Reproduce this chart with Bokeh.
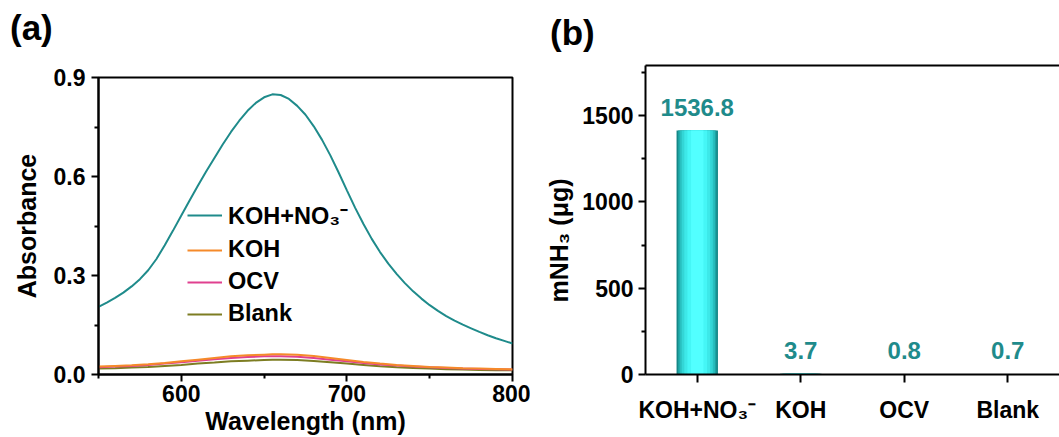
from bokeh.plotting import figure
from bokeh.models import (FixedTicker, PrintfTickFormatter, Legend, LegendItem,
                          Title, Div, LinearAxis, FactorRange, Range1d)
from bokeh.layouts import row, column
from bokeh.embed import file_html
from bokeh.resources import INLINE
from bokeh.core.properties import value

# ---------------- data: panel (a) ----------------
wavelength = [550, 555, 560, 565, 570, 575, 580, 585, 590, 595, 600, 605, 610, 615,
              620, 625, 630, 635, 640, 645, 650, 655, 660, 665, 670, 675, 680, 685,
              690, 695, 700, 705, 710, 715, 720, 725, 730, 735, 740, 745, 750, 755,
              760, 765, 770, 775, 780, 785, 790, 795, 800]
abs_koh_no3 = [0.205, 0.218, 0.232, 0.248, 0.267, 0.289, 0.316, 0.350, 0.392, 0.436,
               0.482, 0.527, 0.572, 0.615, 0.656, 0.697, 0.735, 0.769, 0.799, 0.823,
               0.840, 0.849, 0.847, 0.835, 0.814, 0.787, 0.752, 0.711, 0.664, 0.612,
               0.558, 0.505, 0.456, 0.411, 0.371, 0.336, 0.305, 0.277, 0.252, 0.230,
               0.210, 0.193, 0.177, 0.163, 0.151, 0.140, 0.129, 0.119, 0.110, 0.102,
               0.094]
wavelength_low = [550, 560, 570, 580, 590, 600, 610, 620, 630, 640, 650, 655, 660, 670,
                  680, 690, 700, 710, 720, 730, 740, 750, 760, 770, 780, 790, 800]
abs_koh = [0.024, 0.026, 0.028, 0.031, 0.035, 0.040, 0.045, 0.050, 0.055, 0.058,
           0.060, 0.061, 0.061, 0.060, 0.056, 0.050, 0.044, 0.038, 0.033, 0.029,
           0.026, 0.023, 0.021, 0.019, 0.018, 0.017, 0.016]
abs_ocv = [0.022, 0.024, 0.026, 0.029, 0.033, 0.037, 0.042, 0.046, 0.050, 0.053,
           0.055, 0.055, 0.055, 0.054, 0.050, 0.045, 0.040, 0.035, 0.030, 0.027,
           0.024, 0.022, 0.020, 0.018, 0.017, 0.016, 0.015]
abs_blank = [0.018, 0.019, 0.021, 0.023, 0.026, 0.029, 0.033, 0.036, 0.040, 0.042,
             0.044, 0.045, 0.045, 0.044, 0.041, 0.037, 0.033, 0.029, 0.025, 0.022,
             0.020, 0.018, 0.016, 0.015, 0.014, 0.013, 0.013]
series_names = ["KOH+NO\u2083\u207b", "KOH", "OCV", "Blank"]
a_xticks = [600, 700, 800]
a_xminor = [550, 650, 750]
a_yticks = [0.0, 0.3, 0.6, 0.9]
a_yminor = [0.15, 0.45, 0.75]

# ---------------- data: panel (b) ----------------
categories = ["KOH+NO\u2083\u207b", "KOH", "OCV", "Blank"]
bar_heights = [1413, 3.7, 0.8, 0.7]
bar_labels = ["1536.8", "3.7", "0.8", "0.7"]
b_yticks = [0, 500, 1000, 1500]
b_yminor = [250, 750, 1250, 1750]

FONT = "Liberation Sans"
TEAL = "#1f8b8b"


def style_axis(ax, size="23px"):
    ax.axis_line_width = 2
    ax.major_tick_line_width = 2
    ax.minor_tick_line_width = 2
    ax.major_tick_out = 7
    ax.major_tick_in = 0
    ax.minor_tick_out = 4
    ax.minor_tick_in = 0
    ax.major_label_text_font = FONT
    ax.major_label_text_font_style = "bold"
    ax.major_label_text_font_size = size
    ax.major_label_text_color = "black"
    ax.axis_label_text_font = FONT
    ax.axis_label_text_font_style = "bold"
    ax.axis_label_text_font_size = "25px"
    ax.axis_label_text_color = "black"


def panel_tag(text, height, width, pad_top, pad_left):
    return Div(text=text, width=width, height=height, margin=0,
               styles={"font-family": FONT, "font-size": "35px", "font-weight": "bold",
                       "color": "black", "padding-top": f"{pad_top}px",
                       "padding-left": f"{pad_left}px", "line-height": "1.1",
                       "box-sizing": "border-box", "overflow": "visible"})


# ---------------- panel (a) ----------------
pa = figure(width=530, height=387, x_range=Range1d(550, 800), y_range=Range1d(0, 0.9),
            output_backend="svg", toolbar_location=None, margin=0,
            min_border_left=98, min_border_right=18, min_border_top=27, min_border_bottom=62)
pa.grid.visible = False
pa.outline_line_color = "black"
pa.outline_line_width = 2
pa.outline_line_alpha = 1.0
pa.background_fill_color = "white"
pa.border_fill_color = "white"
pa.title.standoff = 0

xa = pa.xaxis[0]
style_axis(xa)
xa.ticker = FixedTicker(ticks=a_xticks, minor_ticks=a_xminor)
xa.axis_label = "Wavelength (nm)"
xa.major_label_standoff = 3
xa.axis_label_standoff = 2

ya = pa.yaxis[0]
style_axis(ya)
ya.ticker = FixedTicker(ticks=a_yticks, minor_ticks=a_yminor)
ya.formatter = PrintfTickFormatter(format="%.1f")
ya.axis_label = "Absorbance"
ya.major_label_standoff = 6
ya.axis_label_standoff = 10

r_main = pa.line(wavelength, abs_koh_no3, line_color=TEAL, line_width=2)
r_blank = pa.line(wavelength_low, abs_blank, line_color="#7d7d22", line_width=2)
r_ocv = pa.line(wavelength_low, abs_ocv, line_color="#e0408f", line_width=2)
r_koh = pa.line(wavelength_low, abs_koh, line_color="#f58a2a", line_width=2)

legend = Legend(items=[LegendItem(label=series_names[0], renderers=[r_main]),
                       LegendItem(label=series_names[1], renderers=[r_koh]),
                       LegendItem(label=series_names[2], renderers=[r_ocv]),
                       LegendItem(label=series_names[3], renderers=[r_blank])],
                location=(89, 47), orientation="vertical")
legend.label_text_font = FONT
legend.label_text_font_style = "bold"
legend.label_text_font_size = "23.5px"
legend.label_text_color = "black"
legend.glyph_width = 35
legend.glyph_height = 20
legend.label_standoff = 6
legend.spacing = 5
legend.padding = 0
legend.margin = 0
legend.border_line_color = None
legend.background_fill_alpha = 0
pa.add_layout(legend)

# ---------------- panel (b) ----------------
pb = figure(width=529, height=382, x_range=FactorRange(factors=categories, range_padding=0),
            y_range=Range1d(0, 1790),
            output_backend="svg", toolbar_location=None, margin=0,
            min_border_left=115, min_border_right=0, min_border_top=10, min_border_bottom=63)
pb.grid.visible = False
pb.outline_line_color = None
pb.background_fill_color = "white"
pb.border_fill_color = "white"
pb.title.standoff = 0

xb = pb.xaxis[0]
style_axis(xb, "23px")
xb.major_label_standoff = 14
xb.major_tick_out = 8

yb = pb.yaxis[0]
style_axis(yb, "23px")
yb.ticker = FixedTicker(ticks=b_yticks, minor_ticks=b_yminor)
yb.major_label_standoff = 5

top_axis = LinearAxis(major_tick_line_color=None, minor_tick_line_color=None,
                      major_tick_out=0, major_tick_in=0, minor_tick_out=0, minor_tick_in=0,
                      major_label_standoff=0, major_label_text_font_size="0px",
                      axis_line_width=2)
top_axis.major_label_text_color = None
pb.add_layout(top_axis, "above")

pb.add_layout(Title(text="mNH\u2083 (\u03bcg)", align="left", offset=72, standoff=14,
                    text_font=FONT, text_font_size="25px", text_font_style="bold",
                    text_color="black"), "left")

# cylinder-like shading of bars: layered strips from dark edge to bright centre
shade_widths = [0.40, 0.37, 0.34, 0.30, 0.25, 0.19, 0.12]
shade_colors = ["#158787", "#1ea3a3", "#29bfbf", "#33d6d6", "#3de8e8", "#45f6f6", "#52ffff"]
for w, c in zip(shade_widths, shade_colors):
    pb.vbar(x=categories, top=bar_heights, width=w, fill_color=c, line_color=None)

pb.text(x=categories, y=bar_heights, text=bar_labels, text_font=value(FONT),
        text_font_size="24px", text_font_style="bold", text_color=TEAL,
        text_align="center", text_baseline="bottom", y_offset=-15)

col_a = column(panel_tag("(a)", 50, 530, 9, 10), pa, spacing=0)
col_b = column(panel_tag("(b)", 55, 529, 14, 20), pb, spacing=0)
layout = row(col_a, col_b, spacing=0)
open("out.html", "w").write(file_html(layout, INLINE))
